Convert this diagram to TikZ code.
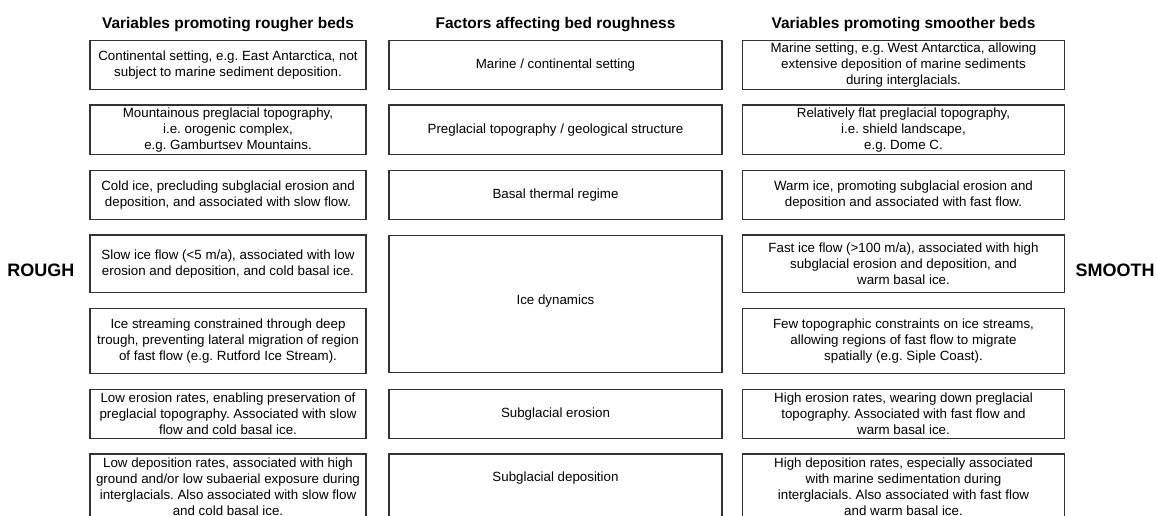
\documentclass[tikz,border=0pt]{standalone}
\usepackage{fontspec}
\setmainfont{Liberation Sans}
\usepackage{tikz}
\frenchspacing

\begin{document}
\begin{tikzpicture}[x=0.75pt, y=-0.75pt,
  box/.style={draw=black!80, line width=0.8pt, inner sep=0pt, align=center,
    font=\fontsize{10}{12}\selectfont},
  lbox/.style={box, minimum width=207pt},
  mbox/.style={box, minimum width=249.75pt},
  rbox/.style={box, minimum width=241pt},
  head/.style={font=\fontsize{11.6}{14}\selectfont\bfseries},
  side/.style={font=\fontsize{13.5}{16}\selectfont\bfseries}]
\useasboundingbox (0,0) rectangle (1158,516);
\clip (0,0) rectangle (1158,516);

% column headings
\node[head] (hl) at (228,25)   {Variables promoting rougher beds};
\node[head] (hm) at (555.5,25) {Factors affecting bed roughness};
\node[head] (hr) at (903.5,25) {Variables promoting smoother beds};

\node[side] (rough)  at (41,270)   {ROUGH};
\node[side] (smooth) at (1115,270) {SMOOTH};

% left column
\node[lbox, minimum height=36.75pt] (l1) at (228,65.2)
  {Continental setting, e.g. East Antarctica, not\\subject to marine sediment deposition.};
\node[lbox, minimum height=37pt] (l2) at (228,129.7)
  {Mountainous preglacial topography,\\i.e. orogenic complex,\\e.g. Gamburtsev Mountains.};
\node[lbox, minimum height=37.3pt] (l3) at (228,195)
  {Cold ice, precluding subglacial erosion and\\deposition, and associated with slow flow.};
\node[lbox, minimum height=43pt] (l4) at (228,263.7)
  {Slow ice flow (<5 m/a), associated with low\\erosion and deposition, and cold basal ice.};
\node[lbox, minimum height=48.2pt] (l5) at (228,341)
  {Ice streaming constrained through deep\\trough, preventing lateral migration of region\\of fast flow (e.g. Rutford Ice Stream).};
\node[lbox, minimum height=36.75pt] (l6) at (228,414)
  {Low erosion rates, enabling preservation of\\preglacial topography. Associated with slow\\flow and cold basal ice.};
\node[lbox, minimum height=49.5pt] (l7) at (228,487)
  {Low deposition rates, associated with high\\ground and/or low subaerial exposure during\\interglacials. Also associated with slow flow\\and cold basal ice.};

% middle column
\node[mbox, minimum height=36.75pt] (m1) at (555.5,65.2) {Marine / continental setting};
\node[mbox, minimum height=37pt] (m2) at (555.5,129.7) {Preglacial topography / geological structure};
\node[mbox, minimum height=37.3pt] (m3) at (555.5,195) {Basal thermal regime};
\node[mbox, minimum height=102.75pt, text depth=6pt] (m4) at (555.5,304) {Ice dynamics};
\node[mbox, minimum height=36.75pt] (m5) at (555.5,414) {Subglacial erosion};
\node[mbox, minimum height=60pt] (m6) at (555.5,494) {};
\node[font=\fontsize{10}{12}\selectfont] (m6t) at (555.5,478) {Subglacial deposition};

% right column
\node[rbox, minimum height=36.75pt] (r1) at (903.5,65.2)
  {Marine setting, e.g. West Antarctica, allowing\\extensive deposition of marine sediments\\during interglacials.};
\node[rbox, minimum height=37pt] (r2) at (903.5,129.7)
  {Relatively flat preglacial topography,\\i.e. shield landscape,\\e.g. Dome C.};
\node[rbox, minimum height=37.3pt] (r3) at (903.5,195)
  {Warm ice, promoting subglacial erosion and\\deposition and associated with fast flow.};
\node[rbox, minimum height=43pt] (r4) at (903.5,263.7)
  {Fast ice flow (>100 m/a), associated with high\\subglacial erosion and deposition, and\\warm basal ice.};
\node[rbox, minimum height=48.2pt] (r5) at (903.5,341)
  {Few topographic constraints on ice streams,\\allowing regions of fast flow to migrate\\spatially (e.g. Siple Coast).};
\node[rbox, minimum height=36.75pt] (r6) at (903.5,414)
  {High erosion rates, wearing down preglacial\\topography. Associated with fast flow and\\warm basal ice.};
\node[rbox, minimum height=49.5pt] (r7) at (903.5,487)
  {High deposition rates, especially associated\\with marine sedimentation during\\interglacials. Also associated with fast flow\\and warm basal ice.};
\end{tikzpicture}
\end{document}
